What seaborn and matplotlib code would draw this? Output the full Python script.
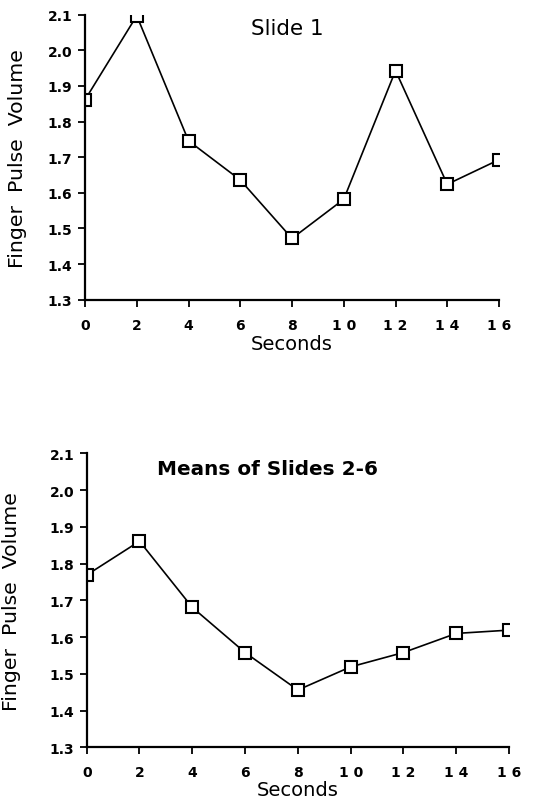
import matplotlib
matplotlib.use("Agg")
import matplotlib.pyplot as plt
import seaborn as sns
import pandas as pd

seconds = [0, 2, 4, 6, 8, 10, 12, 14, 16]
slide1 = [1.861, 2.097, 1.746, 1.636, 1.472, 1.582, 1.943, 1.624, 1.693]
means_2_6 = [1.769, 1.861, 1.681, 1.558, 1.456, 1.519, 1.558, 1.610, 1.619]
x_tick_labels = ["0", "2", "4", "6", "8", "1 0", "1 2", "1 4", "1 6"]
y_ticks = [1.3, 1.4, 1.5, 1.6, 1.7, 1.8, 1.9, 2.0, 2.1]
titles = ["Slide 1", "Means of Slides 2-6"]

sns.set_theme(style="ticks")
plt.rcParams['font.family'] = ['DejaVu Sans']

fig = plt.figure(figsize=(5.47, 8.03), dpi=100)
ax1 = fig.add_axes([0.1554, 0.6255, 0.7569, 0.355])
ax2 = fig.add_axes([0.1585, 0.0681, 0.772, 0.366])

specs = [
    (ax1, slide1, titles[0], (0.488, 0.953), "normal", 15.5, -0.155, -0.162),
    (ax2, means_2_6, titles[1], (0.429, 0.949), "bold", 14.4, -0.142, -0.177),
]

for ax, vals, title, tpos, tw, tfs, xly, ylx in specs:
    df = pd.DataFrame({"Seconds": seconds, "FPV": vals})
    sns.lineplot(data=df, x="Seconds", y="FPV", ax=ax, color="black",
                 linewidth=1.2, marker="s", markersize=8.5,
                 markerfacecolor="white", markeredgecolor="black",
                 markeredgewidth=1.5)
    ax.set_xlim(0, 16)
    ax.set_ylim(1.3, 2.1)
    ax.set_xticks(seconds)
    ax.set_xticklabels(x_tick_labels)
    ax.set_yticks(y_ticks)
    ax.set_yticklabels([f"{v:.1f}" for v in y_ticks])
    for s in ["top", "right"]:
        ax.spines[s].set_visible(False)
    for s in ["left", "bottom"]:
        ax.spines[s].set_linewidth(1.6)
        ax.spines[s].set_color("black")
    ax.tick_params(axis="both", direction="out", length=5, width=1.3,
                   color="black", labelsize=10, labelcolor="black")
    ax.tick_params(axis="x", pad=8)
    ax.tick_params(axis="y", pad=4)
    for lbl in ax.get_xticklabels() + ax.get_yticklabels():
        lbl.set_fontweight("bold")
    ax.set_xlabel("Seconds", fontsize=14, color="black")
    ax.set_ylabel("Finger  Pulse  Volume", fontsize=14.7, color="black")
    ax.xaxis.set_label_coords(0.5, xly)
    ax.xaxis.label.set_va("center")
    ax.yaxis.set_label_coords(ylx, 0.5)
    ax.yaxis.label.set_va("center")
    ax.text(tpos[0], tpos[1], title, transform=ax.transAxes, ha="center",
            va="center", fontsize=tfs, fontweight=tw, color="black")

fig.savefig("out.png", dpi=100)
